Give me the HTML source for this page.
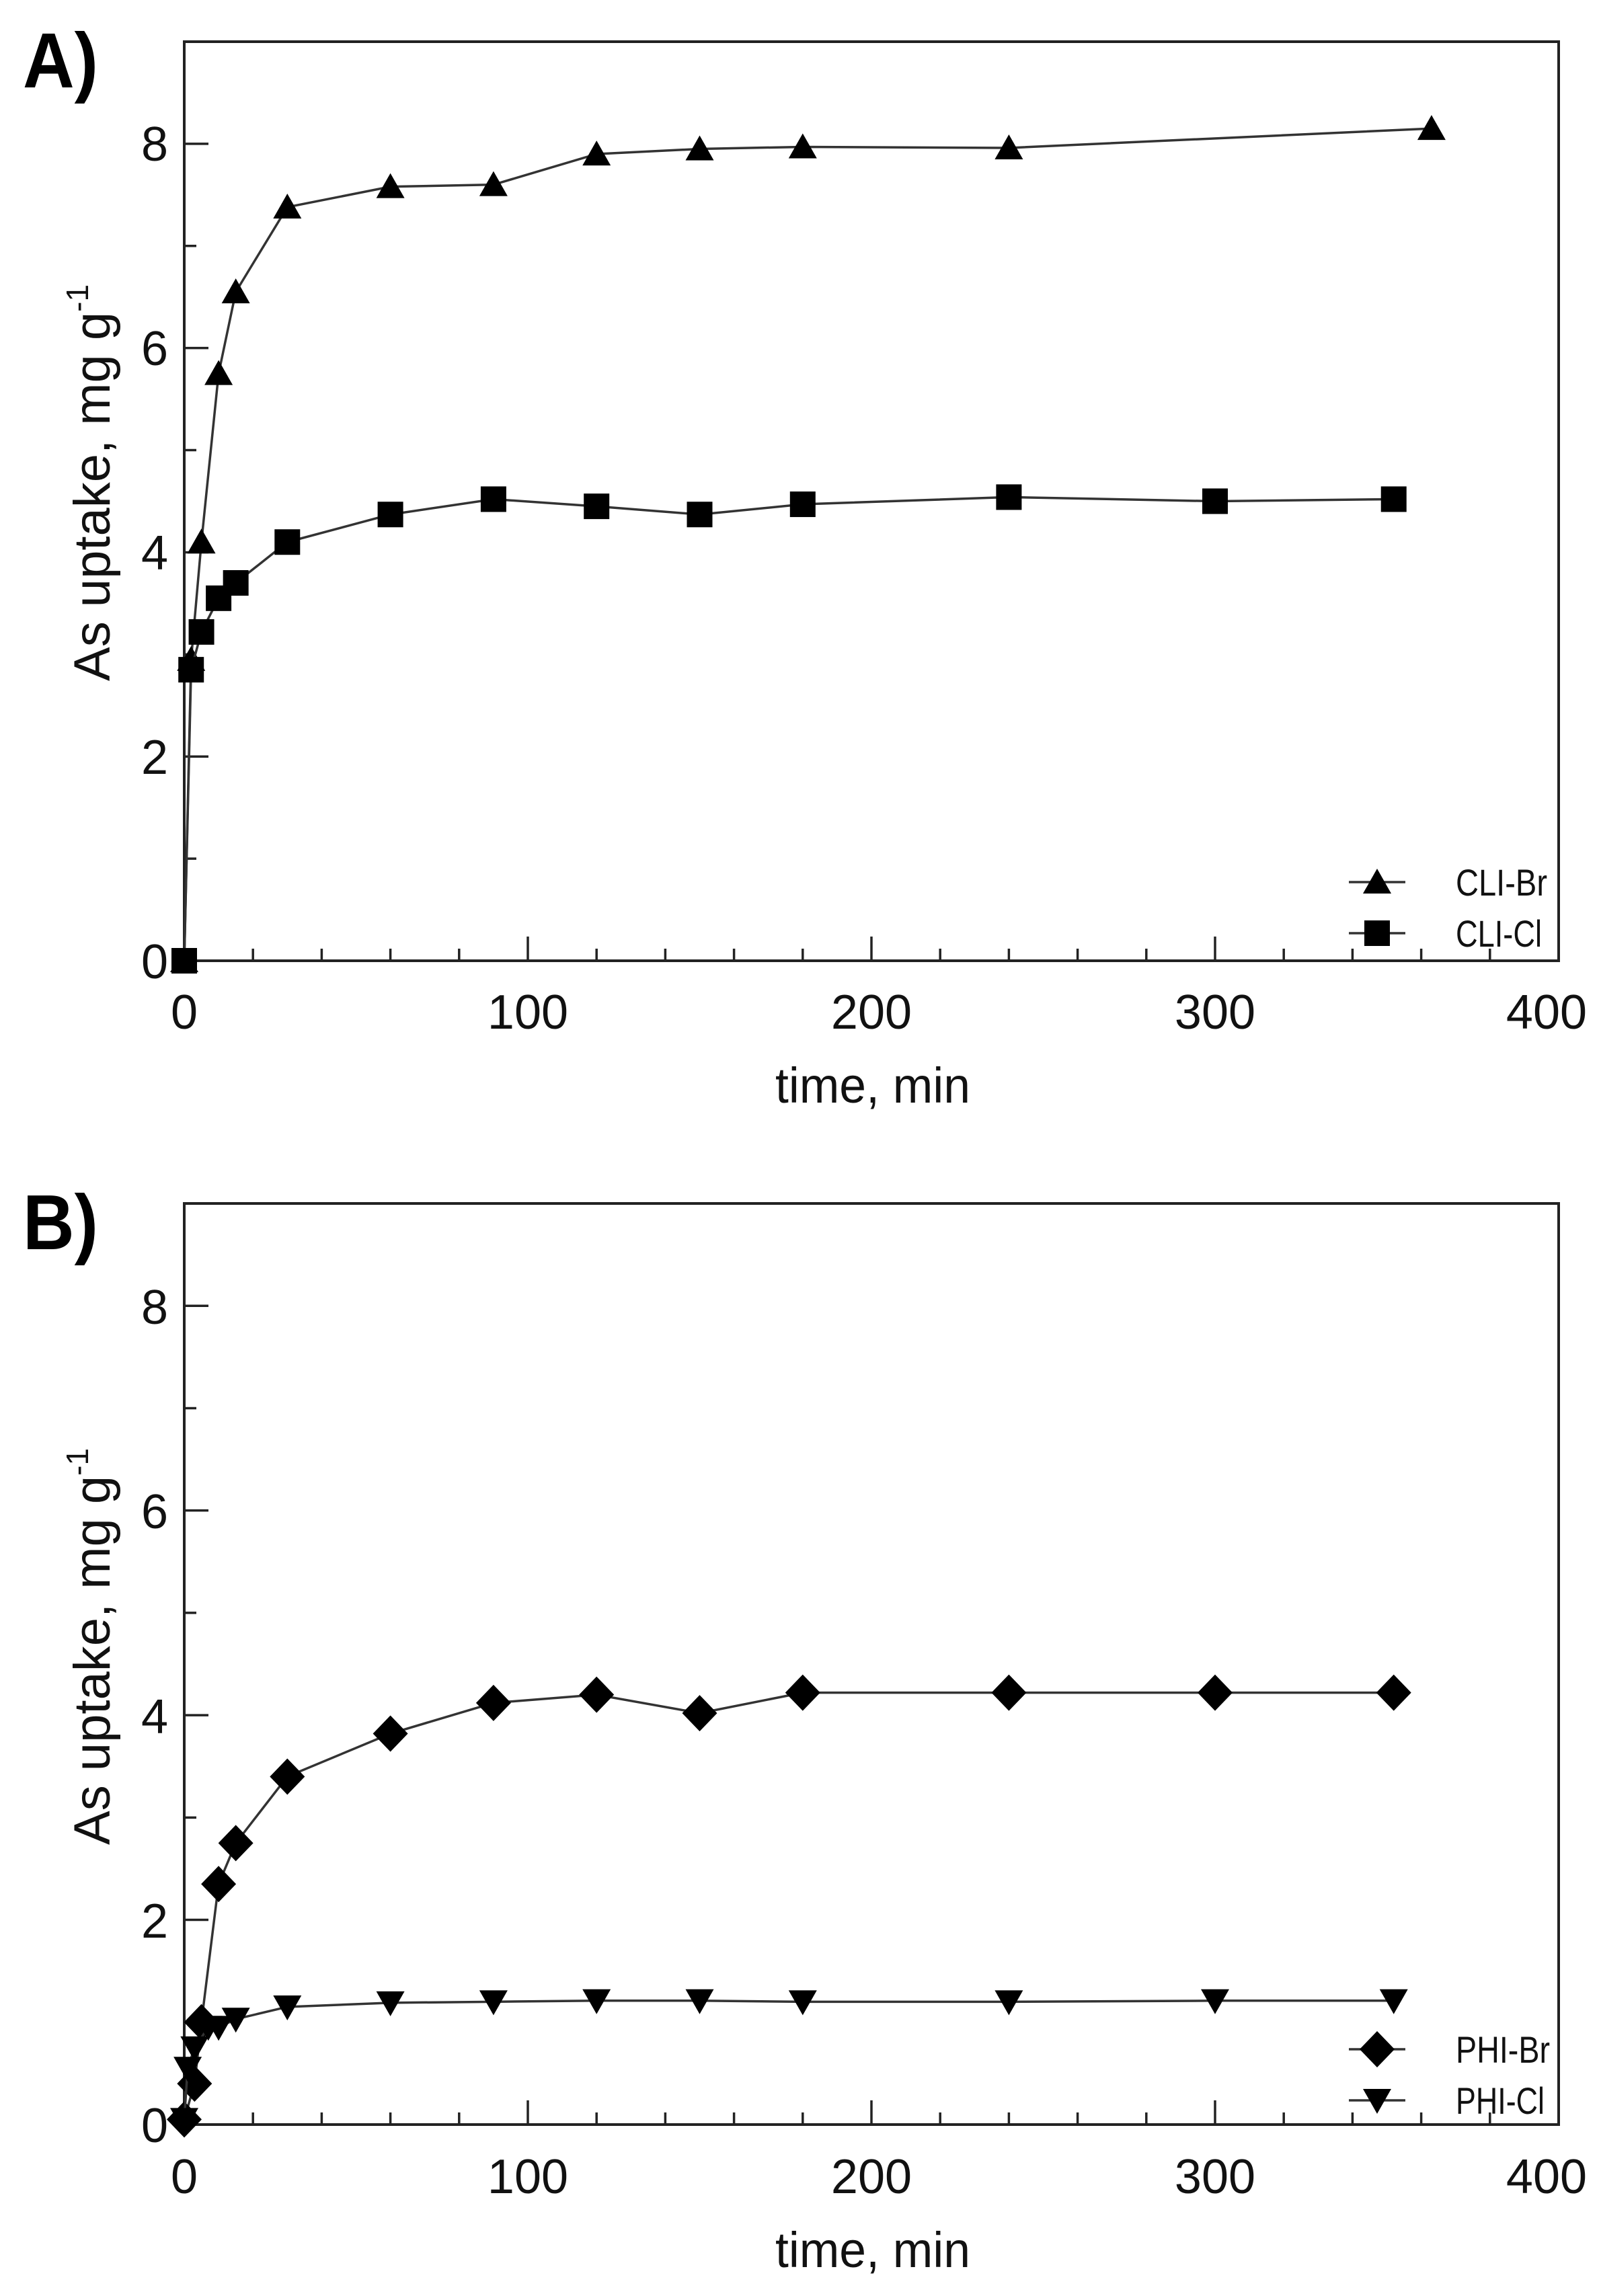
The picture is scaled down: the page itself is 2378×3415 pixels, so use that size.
<!DOCTYPE html>
<html><head><meta charset="utf-8"><style>
html,body{margin:0;padding:0;background:#fff;}
svg{display:block;}
text{font-family:"Liberation Sans",sans-serif;fill:#111;}
</style></head><body>
<svg id="s" width="2378" height="3415" viewBox="0 0 2378 3415" xmlns="http://www.w3.org/2000/svg">
<rect width="2378" height="3415" fill="#fff"/>
<g id="g"></g>
<text x="34" y="130" font-size="116" font-weight="bold" style="fill:#000" textLength="112" lengthAdjust="spacingAndGlyphs">A)</text>
<text x="34" y="1858" font-size="116" font-weight="bold" style="fill:#000" textLength="112" lengthAdjust="spacingAndGlyphs">B)</text>
<g font-size="72" text-anchor="end">
<text x="250" y="1455">0</text><text x="250" y="1151">2</text><text x="250" y="847">4</text><text x="250" y="543">6</text><text x="250" y="239">8</text>
<text x="250" y="3186">0</text><text x="250" y="2882">2</text><text x="250" y="2578">4</text><text x="250" y="2273">6</text><text x="250" y="1969">8</text>
</g>
<g font-size="72" text-anchor="middle">
<text x="274" y="1530">0</text><text x="785" y="1530">100</text><text x="1296" y="1530">200</text><text x="1807" y="1530">300</text><text x="2300" y="1530">400</text>
<text x="274" y="3262">0</text><text x="785" y="3262">100</text><text x="1296" y="3262">200</text><text x="1807" y="3262">300</text><text x="2300" y="3262">400</text>
</g>
<g font-size="74" text-anchor="middle">
<text x="1298" y="1640" textLength="290" lengthAdjust="spacingAndGlyphs">time, min</text>
<text x="1298" y="3372" textLength="290" lengthAdjust="spacingAndGlyphs">time, min</text>
</g>
<g font-size="76">
<text transform="translate(163,1013) rotate(-90)">As uptake, mg g<tspan font-size="46" dy="-32">-1</tspan></text>
<text transform="translate(163,2744) rotate(-90)">As uptake, mg g<tspan font-size="46" dy="-32">-1</tspan></text>
</g>
<g font-size="56">
<text x="2165" y="1332" textLength="136" lengthAdjust="spacingAndGlyphs">CLI-Br</text><text x="2165" y="1408" textLength="128" lengthAdjust="spacingAndGlyphs">CLI-Cl</text>
<text x="2165" y="3068" textLength="140" lengthAdjust="spacingAndGlyphs">PHI-Br</text><text x="2165" y="3144" textLength="132" lengthAdjust="spacingAndGlyphs">PHI-Cl</text>
</g>
</svg>
<script>
var NS="http://www.w3.org/2000/svg",g=document.getElementById('g');
function el(n,a){var e=document.createElementNS(NS,n);for(var k in a)e.setAttribute(k,a[k]);g.appendChild(e);return e;}
function panel(L,R,T,B,series,leg){
 var ux=(R-L)/400,uy=(B-T)/9;
 function X(v){return L+v*ux;} function Y(v){return B-v*uy;}
 el('rect',{x:L,y:T,width:R-L,height:B-T,fill:'none',stroke:'#222','stroke-width':4});
 for(var i=1;i<9;i++){var len=i%2==0?36:18;el('line',{x1:L,y1:Y(i),x2:L+len,y2:Y(i),stroke:'#222','stroke-width':3.5});}
 for(var i=20;i<400;i+=20){var len=i%100==0?36:18;el('line',{x1:X(i),y1:B,x2:X(i),y2:B-len,stroke:'#222','stroke-width':3.5});}
 series.forEach(function(s,si){
  var pts=s.d.map(function(p){return X(p[0])+','+Y(p[1]);}).join(' ');
  el('polyline',{points:pts,fill:'none',stroke:'#333','stroke-width':3.5});
  s.d.forEach(function(p){mk(s.m,X(p[0]),Y(p[1]));});
  var ly=leg[si];
  el('line',{x1:2006,y1:ly,x2:2090,y2:ly,stroke:'#333','stroke-width':3.5});
  mk(s.m,2048,ly);
 });
}
function mk(m,x,y){
 if(m=='t')el('polygon',{points:(x-21)+','+(y+17)+' '+(x+21)+','+(y+17)+' '+x+','+(y-20),fill:'#000'});
 else if(m=='s')el('rect',{x:x-19,y:y-19,width:38,height:38,fill:'#000'});
 else if(m=='d')el('polygon',{points:x+','+(y-27)+' '+(x+26)+','+y+' '+x+','+(y+27)+' '+(x-26)+','+y,fill:'#000'});
 else el('polygon',{points:(x-21)+','+(y-17)+' '+(x+21)+','+(y-17)+' '+x+','+(y+20),fill:'#000'});
}
panel(274,2318,62,1429,[
 {m:'t',d:[[0,0],[2,2.95],[5,4.1],[10,5.75],[15,6.55],[30,7.38],[60,7.58],[90,7.6],[120,7.9],[150,7.95],[180,7.97],[240,7.96],[363,8.15]]},
 {m:'s',d:[[0,0],[2,2.85],[5,3.22],[10,3.55],[15,3.7],[30,4.1],[60,4.37],[90,4.52],[120,4.45],[150,4.37],[180,4.47],[240,4.54],[300,4.5],[352,4.52]]}
],[1312,1388]);
panel(274,2318,1790,3160,[
 {m:'d',d:[[0,0.05],[3,0.4],[5,1.0],[10,2.35],[15,2.75],[30,3.4],[60,3.82],[90,4.12],[120,4.2],[150,4.02],[180,4.22],[240,4.22],[300,4.22],[352,4.22]]},
 {m:'v',d:[[0,0.05],[1,0.55],[3,0.75],[7,0.95],[10,0.95],[15,1.03],[30,1.15],[60,1.19],[90,1.2],[120,1.21],[150,1.21],[180,1.2],[240,1.2],[300,1.21],[352,1.21]]}
],[3048,3124]);
</script>
</body></html>
